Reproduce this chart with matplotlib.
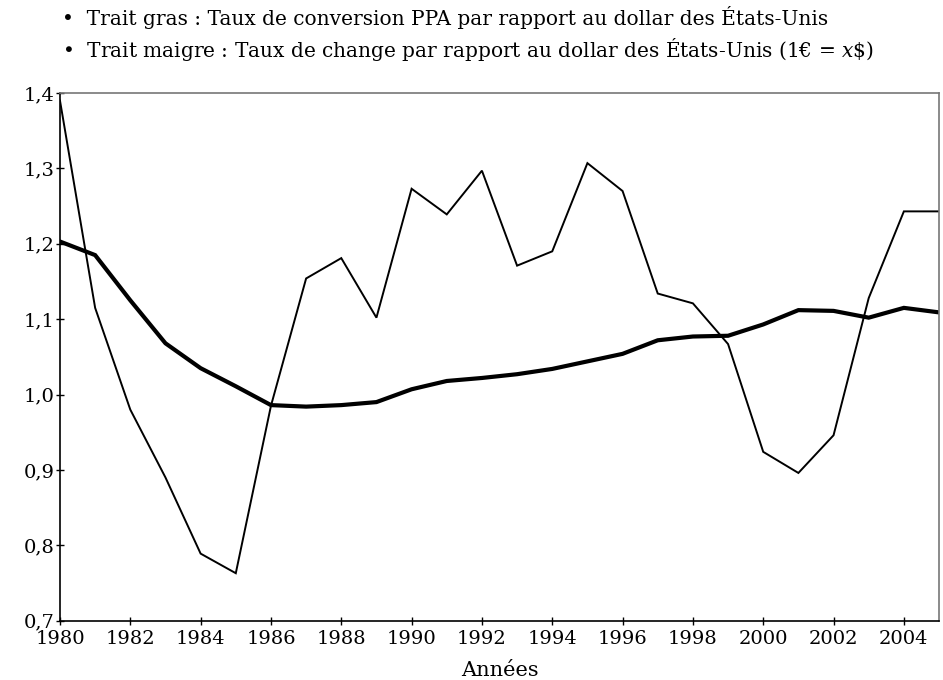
import matplotlib
matplotlib.use("Agg")
import matplotlib.pyplot as plt
from matplotlib.ticker import FuncFormatter

years = list(range(1980, 2006))

# Trait gras : taux de conversion PPA
ppa = [1.203, 1.185, 1.125, 1.068, 1.035, 1.011, 0.986, 0.984, 0.986, 0.990,
       1.007, 1.018, 1.022, 1.027, 1.034, 1.044, 1.054, 1.072, 1.077, 1.078,
       1.093, 1.112, 1.111, 1.102, 1.115, 1.109]

# Trait maigre : taux de change
change = [1.390, 1.115, 0.980, 0.890, 0.789, 0.763, 0.985, 1.154, 1.181, 1.102,
          1.273, 1.239, 1.297, 1.171, 1.190, 1.307, 1.270, 1.134, 1.121, 1.067,
          0.924, 0.896, 0.946, 1.128, 1.243, 1.243]

x_ticks = list(range(1980, 2005, 2))
y_ticks = [0.7, 0.8, 0.9, 1.0, 1.1, 1.2, 1.3, 1.4]

plt.rcParams["font.family"] = ["DejaVu Serif"]
plt.rcParams["mathtext.fontset"] = "dejavuserif"

fig = plt.figure(figsize=(9.43, 6.8), dpi=100)
ax = fig.add_axes([0.0636, 0.0872, 0.9322, 0.776])

ax.plot(years, ppa, color="black", lw=3.0, solid_joinstyle="miter")
ax.plot(years, change, color="black", lw=1.4, solid_joinstyle="miter")

ax.set_xlim(1980, 2005)
ax.set_ylim(0.7, 1.4)
ax.set_xticks(x_ticks)
ax.set_yticks(y_ticks)
ax.yaxis.set_major_formatter(FuncFormatter(lambda v, p: f"{v:.1f}".replace(".", ",")))
ax.tick_params(direction="inout", length=6, width=1, labelsize=14)
ax.tick_params(axis="x", pad=4)
ax.tick_params(axis="y", pad=1)

for side in ("top", "right"):
    ax.spines[side].set_color("#777777")
for side in ("left", "bottom"):
    ax.spines[side].set_color("black")
for s in ax.spines.values():
    s.set_linewidth(1.2)

ax.set_xlabel("Années", fontsize=15, labelpad=9)

fig.text(0.066, 0.974, "•  Trait gras : Taux de conversion PPA par rapport au dollar des États-Unis",
         fontsize=14.5, va="center", ha="left")
fig.text(0.066, 0.927, r"•  Trait maigre : Taux de change par rapport au dollar des États-Unis (1€ = $x$\$)",
         fontsize=14.5, va="center", ha="left")

fig.savefig("out.png", dpi=100)
